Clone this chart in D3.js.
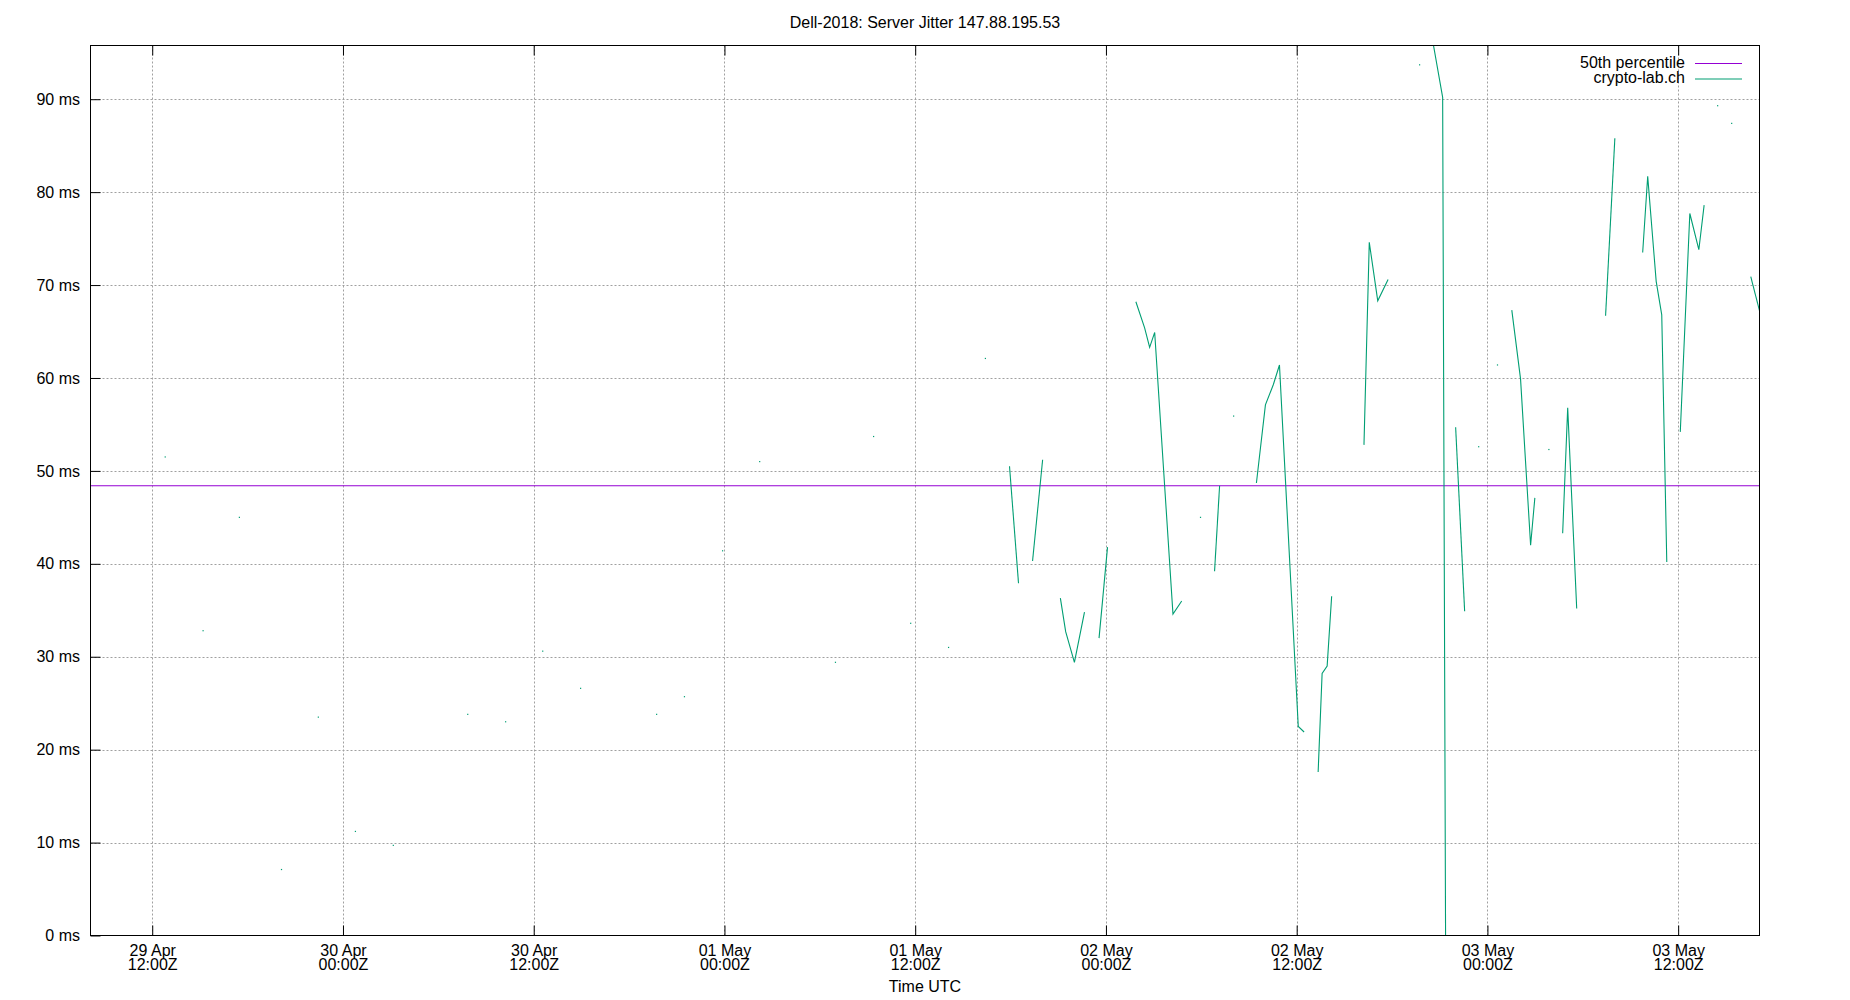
<!DOCTYPE html>
<html>
<head>
<meta charset="utf-8">
<script src="https://cdn.jsdelivr.net/npm/d3@7"></script>
<style>
  html, body { margin: 0; padding: 0; background: #fff; }
  svg { display: block; }
  text { font-family: "Liberation Sans", Arial, sans-serif; font-size: 16px; fill: #000; }
</style>
</head>
<body>
<script>
// ---------- data ----------
const chartTitle = "Dell-2018: Server Jitter 147.88.195.53";
const xAxisTitle = "Time UTC";
const timeDomain = ["2018-04-29T08:07Z", "2018-05-03T17:07Z"];
const valueDomain = [0, 95.78];
const yTickValues = [0, 10, 20, 30, 40, 50, 60, 70, 80, 90];
const yTickLabels = ["0 ms", "10 ms", "20 ms", "30 ms", "40 ms", "50 ms", "60 ms", "70 ms", "80 ms", "90 ms"];
const xTickTimes = ["2018-04-29T12:00Z", "2018-04-30T00:00Z", "2018-04-30T12:00Z", "2018-05-01T00:00Z",
  "2018-05-01T12:00Z", "2018-05-02T00:00Z", "2018-05-02T12:00Z", "2018-05-03T00:00Z", "2018-05-03T12:00Z"];
const seriesNames = ["50th percentile", "crypto-lab.ch"];
const median = 48.4;

// null marks a gap in the measurements
const jitterTimes = [
  "2018-04-29T12:49Z", null, "2018-04-29T15:12Z", null, "2018-04-29T17:29Z", null, "2018-04-29T20:08Z", null,
  "2018-04-29T22:27Z", null, "2018-04-30T00:47Z", null, "2018-04-30T03:10Z", null, "2018-04-30T07:51Z", null,
  "2018-04-30T10:14Z", null, "2018-04-30T12:34Z", null, "2018-04-30T14:57Z", null, "2018-04-30T19:44Z", null,
  "2018-04-30T21:29Z", null, "2018-04-30T23:53Z", null, "2018-05-01T02:13Z", null, "2018-05-01T06:59Z", null,
  "2018-05-01T09:23Z", null, "2018-05-01T11:43Z", null, "2018-05-01T14:06Z", null, "2018-05-01T16:25Z", null,
  "2018-05-01T17:56Z", "2018-05-01T18:30Z", null,
  "2018-05-01T19:23Z", "2018-05-01T20:01Z", null,
  "2018-05-01T21:08Z", "2018-05-01T21:28Z", "2018-05-01T22:01Z", "2018-05-01T22:39Z", null,
  "2018-05-01T23:34Z", "2018-05-02T00:06Z", null,
  "2018-05-02T01:53Z", "2018-05-02T02:26Z", "2018-05-02T02:45Z", "2018-05-02T03:04Z", "2018-05-02T04:13Z", "2018-05-02T04:46Z", null,
  "2018-05-02T05:57Z", null,
  "2018-05-02T06:50Z", "2018-05-02T07:09Z", null,
  "2018-05-02T08:02Z", null,
  "2018-05-02T09:28Z", "2018-05-02T10:02Z", "2018-05-02T10:32Z", "2018-05-02T10:55Z", "2018-05-02T12:06Z", "2018-05-02T12:28Z", null,
  "2018-05-02T13:21Z", "2018-05-02T13:36Z", "2018-05-02T13:55Z", "2018-05-02T14:12Z", null,
  "2018-05-02T16:14Z", "2018-05-02T16:34Z", "2018-05-02T17:06Z", "2018-05-02T17:45Z", null,
  "2018-05-02T19:44Z", null,
  "2018-05-02T20:24Z", "2018-05-02T21:11Z", "2018-05-02T21:22Z", null,
  "2018-05-02T22:00Z", "2018-05-02T22:34Z", null,
  "2018-05-02T23:27Z", null,
  "2018-05-03T00:38Z", null,
  "2018-05-03T01:32Z", "2018-05-03T02:05Z", "2018-05-03T02:43Z", "2018-05-03T02:59Z", null,
  "2018-05-03T03:52Z", null,
  "2018-05-03T04:44Z", "2018-05-03T05:03Z", "2018-05-03T05:37Z", null,
  "2018-05-03T07:26Z", "2018-05-03T08:01Z", null,
  "2018-05-03T09:46Z", "2018-05-03T10:05Z", "2018-05-03T10:37Z", "2018-05-03T10:58Z", "2018-05-03T11:17Z", null,
  "2018-05-03T12:08Z", "2018-05-03T12:44Z", "2018-05-03T13:18Z", "2018-05-03T13:38Z", null,
  "2018-05-03T14:29Z", null,
  "2018-05-03T15:22Z", null,
  "2018-05-03T16:34Z", "2018-05-03T17:20Z"
];
const jitterMs = [
  51.5, null, 32.8, null, 45.0, null, 7.1, null,
  23.5, null, 11.2, null, 9.7, null, 23.8, null,
  23.0, null, 30.6, null, 26.6, null, 23.8, null,
  25.7, null, 41.4, null, 51.0, null, 29.4, null,
  53.7, null, 33.6, null, 31.0, null, 62.1, null,
  50.5, 37.9, null,
  40.3, 51.2, null,
  36.3, 32.7, 29.4, 34.8, null,
  32.0, 41.8, null,
  68.2, 65.4, 63.3, 64.9, 34.6, 36.0, null,
  45.0, null,
  39.2, 48.4, null,
  55.9, null,
  48.7, 57.1, 59.3, 61.4, 22.5, 21.9, null,
  17.6, 28.2, 29.0, 36.5, null,
  52.8, 74.6, 68.3, 70.6, null,
  93.7, null,
  97.8, 90.2, 0.0, null,
  54.7, 34.9, null,
  52.6, null,
  61.4, null,
  67.3, 59.9, 42.0, 47.1, null,
  52.3, null,
  43.3, 56.8, 35.2, null,
  66.7, 85.8, null,
  73.5, 81.7, 70.4, 66.8, 40.2, null,
  54.2, 77.7, 73.8, 78.6, null,
  89.3, null,
  87.4, null,
  70.9, 65.8
];

// ---------- layout ----------
const W = 1850, H = 1000;
const L = 90.5, R = 1759.5, T = 45.5, B = 935.5;
const colMedian = "#9400d3", colSeries = "#009e73";

const parse = d3.isoParse;
const x = d3.scaleUtc().domain(timeDomain.map(parse)).range([L, R]);
const y = d3.scaleLinear().domain(valueDomain).range([B, T]);

const svg = d3.select("body").append("svg").attr("width", W).attr("height", H);

svg.append("defs").append("clipPath").attr("id", "plotclip")
  .append("rect").attr("x", L).attr("y", T).attr("width", R - L).attr("height", B - T);

// grid
const gGrid = svg.append("g").attr("stroke", "#a0a0a0").attr("stroke-width", 1).attr("stroke-dasharray", "2,2");
gGrid.selectAll("line.h").data(yTickValues.filter(v => v > 0)).join("line")
  .attr("x1", L).attr("x2", R).attr("y1", d => Math.round(y(d)) + 0.5).attr("y2", d => Math.round(y(d)) + 0.5);
gGrid.selectAll("line.v").data(xTickTimes.map(parse)).join("line")
  .attr("y1", T).attr("y2", B).attr("x1", d => Math.round(x(d)) + 0.5).attr("x2", d => Math.round(x(d)) + 0.5);

// axes via d3-axis
const yAxis = d3.axisLeft(y).tickValues(yTickValues).tickSize(-10).tickPadding(20)
  .tickFormat((d, i) => yTickLabels[i]);
const gy = svg.append("g").attr("transform", `translate(${L},0)`).call(yAxis);
gy.select(".domain").remove();
gy.selectAll(".tick line").attr("stroke", "#000");
gy.selectAll(".tick text").attr("x", -10.5).style("font-size", "16px")
  .style("font-family", '"Liberation Sans", Arial, sans-serif').attr("fill", "#000");

const fmtDay = d3.utcFormat("%d %b"), fmtHour = d3.utcFormat("%H:%MZ");
const xAxisB = d3.axisBottom(x).tickValues(xTickTimes.map(parse)).tickSize(-10).tickFormat("");
const gxb = svg.append("g").attr("transform", `translate(0,${B})`).call(xAxisB);
gxb.select(".domain").remove();
gxb.selectAll(".tick line").attr("stroke", "#000");
gxb.selectAll(".tick").each(function(d) {
  const t = d3.select(this).append("text").attr("text-anchor", "middle").attr("fill", "#000")
    .style("font-size", "16px").style("font-family", '"Liberation Sans", Arial, sans-serif');
  t.append("tspan").attr("x", 0).attr("y", 20).text(fmtDay(d));
  t.append("tspan").attr("x", 0).attr("y", 34.5).text(fmtHour(d));
});
const xAxisT = d3.axisTop(x).tickValues(xTickTimes.map(parse)).tickSize(-10).tickFormat("");
const gxt = svg.append("g").attr("transform", `translate(0,${T})`).call(xAxisT);
gxt.select(".domain").remove();
gxt.selectAll(".tick line").attr("stroke", "#000");

// series
const pts = jitterTimes.map((t, i) => ({ t: t === null ? null : parse(t), v: jitterMs[i] }));
const segments = [];
let cur = [];
pts.forEach(p => {
  if (p.t === null || p.v === null) { if (cur.length) segments.push(cur); cur = []; }
  else cur.push(p);
});
if (cur.length) segments.push(cur);

const plot = svg.append("g").attr("clip-path", "url(#plotclip)");
const line = d3.line().x(d => x(d.t)).y(d => y(d.v));

plot.append("line").attr("x1", L).attr("x2", R)
  .attr("y1", y(median)).attr("y2", y(median))
  .attr("stroke", colMedian).attr("stroke-width", 1.1);

plot.selectAll("path.seg").data(segments.filter(s => s.length > 1)).join("path")
  .attr("class", "seg").attr("d", line).attr("fill", "none")
  .attr("stroke", colSeries).attr("stroke-width", 1.1).attr("stroke-linejoin", "miter");

plot.selectAll("rect.dot").data(segments.filter(s => s.length === 1)).join("rect")
  .attr("class", "dot")
  .attr("x", d => x(d[0].t) - 0.6).attr("y", d => y(d[0].v) - 0.6)
  .attr("width", 1.2).attr("height", 1.2).attr("fill", colSeries);

// border
svg.append("rect").attr("x", L).attr("y", T).attr("width", R - L).attr("height", B - T)
  .attr("fill", "none").attr("stroke", "#000").attr("stroke-width", 1);

// titles
svg.append("text").attr("x", (L + R) / 2).attr("y", 27.5).attr("text-anchor", "middle").text(chartTitle);
svg.append("text").attr("x", (L + R) / 2).attr("y", 991.5).attr("text-anchor", "middle").text(xAxisTitle);

// legend
const legend = svg.append("g");
[colMedian, colSeries].forEach((c, i) => {
  const yy = 63.5 + i * 15.5;
  legend.append("text").attr("x", 1685).attr("y", yy + 4).attr("text-anchor", "end").text(seriesNames[i]);
  legend.append("line").attr("x1", 1695).attr("x2", 1742).attr("y1", yy).attr("y2", yy)
    .attr("stroke", c).attr("stroke-width", 1.1);
});
</script>
</body>
</html>
